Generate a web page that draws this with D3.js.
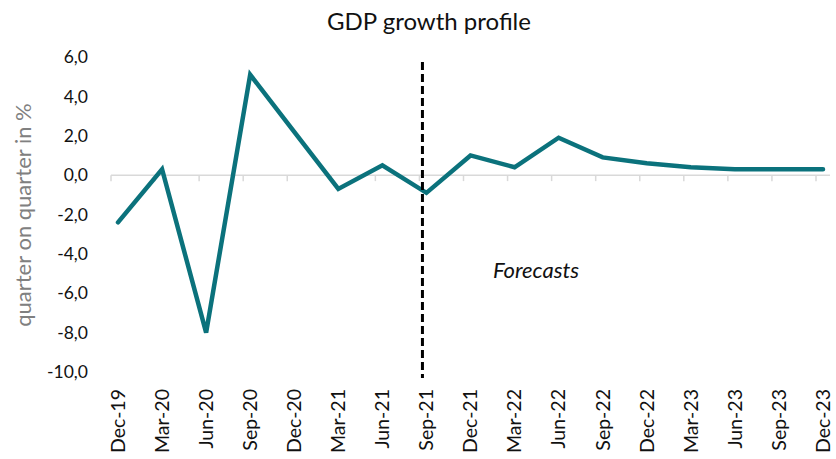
<!DOCTYPE html>
<html>
<head>
<meta charset="utf-8">
<script src="https://cdn.jsdelivr.net/npm/d3@7"></script>
<style>
  body { margin: 0; background: #fff; }
  text { font-family: Lato, "Open Sans", sans-serif; }
</style>
</head>
<body>
<div id="chart"></div>
<script>
/* --- data ---------------------------------------------------------------- */
const quarters = ["Dec-19","Mar-20","Jun-20","Sep-20","Dec-20","Mar-21","Jun-21","Sep-21",
                  "Dec-21","Mar-22","Jun-22","Sep-22","Dec-22","Mar-23","Jun-23","Sep-23","Dec-23"];
const growth = [-2.4, 0.3, -8.0, 5.1, 2.2, -0.7, 0.5, -0.9,
                1.0, 0.4, 1.9, 0.9, 0.6, 0.4, 0.3, 0.3, 0.3];
const yTicks = [6, 4, 2, 0, -2, -4, -6, -8, -10];
const forecastStart = "Sep-21";

/* --- layout -------------------------------------------------------------- */
const W = 836, H = 459;
const svg = d3.select("#chart").append("svg").attr("width", W).attr("height", H);

const x = d3.scalePoint().domain(quarters).range([118, 823]);
const y = d3.scaleLinear().domain([-10, 6]).range([372, 57]);
const fmt = v => d3.format(".1f")(v).replace(".", ",").replace("−", "-");

/* title */
svg.append("text").attr("x", 429).attr("y", 30).attr("text-anchor", "middle")
  .style("font-size", "24px").attr("fill", "#111").text("GDP growth profile");

/* y axis labels (no axis line) */
svg.append("g").selectAll("text").data(yTicks).join("text")
  .attr("x", 88).attr("y", d => y(d)).attr("dy", "0.35em")
  .attr("text-anchor", "end").style("font-size", "17.5px").attr("fill", "#111")
  .text(fmt);

svg.append("text")
  .attr("transform", "translate(31,215) rotate(-90)")
  .attr("text-anchor", "middle").style("font-size", "22px").attr("fill", "#808080")
  .text("quarter on quarter in %");

/* horizontal axis at zero, ticks sit a little left of each point */
const ax = svg.append("g").attr("transform", `translate(0,${y(0)})`);
ax.append("line").attr("x1", x(quarters[0]) - 7).attr("x2", x(quarters[quarters.length - 1]) + 7)
  .attr("stroke", "#d9d9d9").attr("stroke-width", 1.5);
ax.selectAll("line.tk").data(quarters).join("line").attr("class", "tk")
  .attr("x1", d => x(d) - 7).attr("x2", d => x(d) - 7)
  .attr("y1", 0).attr("y2", 6).attr("stroke", "#d9d9d9").attr("stroke-width", 1.5);

/* category labels along the bottom */
svg.append("g").selectAll("text").data(quarters).join("text")
  .attr("transform", d => `translate(${x(d)},389) rotate(-90)`)
  .attr("dy", "0.35em").attr("text-anchor", "end")
  .style("font-size", "19.5px").attr("fill", "#111").text(d => d);

/* line */
svg.append("path").datum(growth)
  .attr("d", d3.line().x((d, i) => x(quarters[i])).y(d => y(d)))
  .attr("fill", "none").attr("stroke", "#0b727c").attr("stroke-width", 4.5)
  .attr("stroke-linejoin", "miter").attr("stroke-linecap", "round");

/* forecast divider */
svg.append("line")
  .attr("x1", x(forecastStart) - 4).attr("x2", x(forecastStart) - 4)
  .attr("y1", 62).attr("y2", 378)
  .attr("stroke", "#000").attr("stroke-width", 3).attr("stroke-dasharray", "8,4");

svg.append("text").attr("x", 536).attr("y", 278).attr("text-anchor", "middle")
  .style("font-size", "22px").style("font-style", "italic").attr("fill", "#111")
  .text("Forecasts");
</script>
</body>
</html>
